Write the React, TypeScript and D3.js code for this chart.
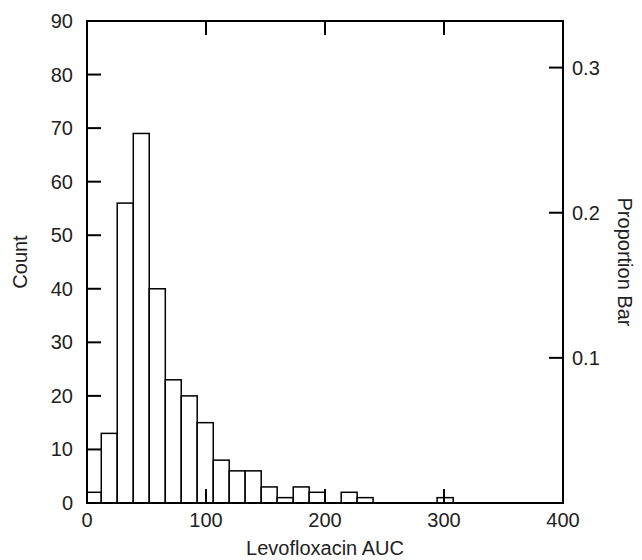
import React from "react";
import * as d3 from "d3";

const binStart = [0, 12, 25.4, 38.9, 52.3, 65.8, 79.2, 92.6, 106.1, 119.5, 132.9, 146.4, 159.8, 173.3, 186.7, 200.1, 213.6, 227.0, 294.2];
const binEnd = [12, 25.4, 38.9, 52.3, 65.8, 79.2, 92.6, 106.1, 119.5, 132.9, 146.4, 159.8, 173.3, 186.7, 200.1, 213.6, 227.0, 240.4, 307.7];
const counts = [2, 13, 56, 69, 40, 23, 20, 15, 8, 6, 6, 3, 1, 3, 2, 0, 2, 1, 1];

const xTicks = [0, 100, 200, 300, 400];
const yTicks = [0, 10, 20, 30, 40, 50, 60, 70, 80, 90];
const propTicks = [0.1, 0.2, 0.3];

const xLabel = "Levofloxacin AUC";
const yLabel = "Count";
const y2Label = "Proportion Bar";

const W = 642;
const H = 560;
const left = 87;
const right = 563;
const top = 21;
const bottom = 503;
const tickLen = 14;
const font = "Liberation Sans, Arial, Helvetica, sans-serif";
const fs = 20;

export default function App() {
  const total = d3.sum(counts);
  const x = d3.scaleLinear().domain([0, 400]).range([left, right]);
  const y = d3.scaleLinear().domain([0, 90]).range([bottom, top]);
  const y2 = d3.scaleLinear().domain([0, 90 / total]).range([bottom, top]);

  return (
    <svg width={W} height={H} style={{ position: "absolute", left: 0, top: 0, background: "#fff" }}
      fontFamily={font} fontSize={fs}>
      <rect x={0} y={0} width={W} height={H} fill="#fff" />
      {counts.map((c, i) => (
        <rect key={i} x={x(binStart[i])} y={y(c)} width={x(binEnd[i]) - x(binStart[i])}
          height={y(0) - y(c)} fill="#fff" stroke="#000" strokeWidth={1.5} />
      ))}
      <rect x={left} y={top} width={right - left} height={bottom - top} fill="none" stroke="#000" strokeWidth={2} />
      {yTicks.map((t) => (
        <g key={"y" + t}>
          <line x1={left} x2={left + tickLen} y1={y(t)} y2={y(t)} stroke="#000" strokeWidth={2} />
          <text x={left - 14} y={y(t)} dy="0.35em" textAnchor="end" fill="#222">{t}</text>
        </g>
      ))}
      {xTicks.map((t) => (
        <g key={"x" + t}>
          <line x1={x(t)} x2={x(t)} y1={bottom} y2={bottom - tickLen} stroke="#000" strokeWidth={2} />
          <line x1={x(t)} x2={x(t)} y1={top} y2={top + tickLen} stroke="#000" strokeWidth={2} />
          <text x={x(t)} y={520} dy="0.35em" textAnchor="middle" fill="#222">{t}</text>
        </g>
      ))}
      {propTicks.map((t) => (
        <g key={"p" + t}>
          <line x1={right} x2={right - tickLen} y1={y2(t)} y2={y2(t)} stroke="#000" strokeWidth={2} />
          <text x={right + 9} y={y2(t)} dy="0.35em" textAnchor="start" fill="#222">{t.toFixed(1)}</text>
        </g>
      ))}
      <text x={(left + right) / 2} y={548} dy="0.35em" textAnchor="middle" fill="#222">{xLabel}</text>
      <text transform={`translate(20, ${(top + bottom) / 2}) rotate(-90)`} dy="0.35em" textAnchor="middle" fill="#222">{yLabel}</text>
      <text transform={`translate(625, ${(top + bottom) / 2}) rotate(90)`} dy="0.35em" textAnchor="middle" fill="#222">{y2Label}</text>
    </svg>
  );
}
